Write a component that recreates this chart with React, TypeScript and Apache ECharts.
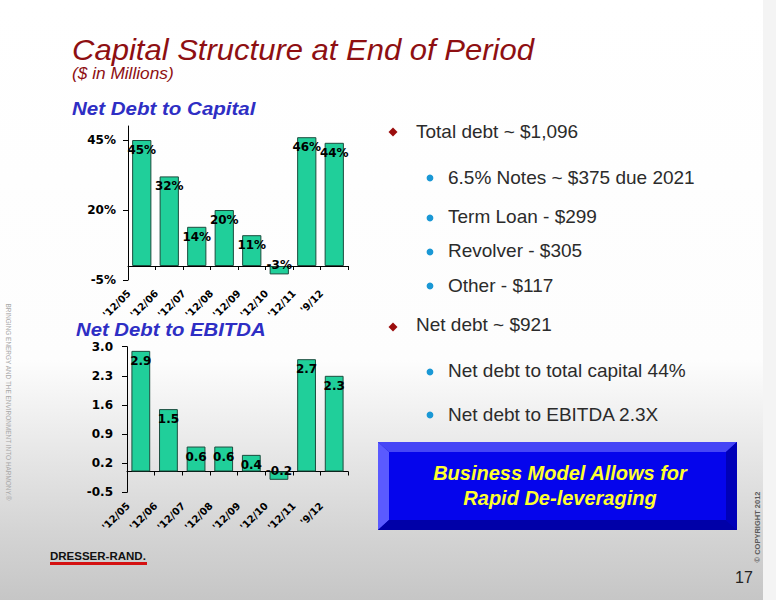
import React, { useEffect, useRef } from "react";
import * as echarts from "echarts";

const categories = ["'12/05", "'12/06", "'12/07", "'12/08", "'12/09", "'12/10", "'12/11", "'9/12"];
const netDebtToCapital = [45, 32, 14, 20, 11, -3, 46, 44];
const netDebtToEbitda = [2.9, 1.5, 0.6, 0.6, 0.4, -0.2, 2.7, 2.3];
const capitalTicks = [-5, 20, 45];
const ebitdaTicks = [-0.5, 0.2, 0.9, 1.6, 2.3, 3.0];

const titleText = "Capital Structure at End of Period";
const subtitleText = "($ in Millions)";
const chart1Title = "Net Debt to Capital";
const chart2Title = "Net Debt to EBITDA";
const mainBullets = ["Total debt ~ $1,096", "Net debt ~ $921"];
const debtItems = ["6.5% Notes ~ $375 due 2021", "Term Loan - $299", "Revolver - $305", "Other - $117"];
const netItems = ["Net debt to total capital 44%", "Net debt to EBITDA 2.3X"];
const boxLines = ["Business Model Allows for", "Rapid De-leveraging"];

const SANS = "'Liberation Sans', Arial, Helvetica, sans-serif";
const CHART_FONT = "'DejaVu Sans', Verdana, sans-serif";
const BAR_COLOR = "#20cf9a";
const BAR_BORDER = "#1b4d3e";
const RED = "#8e0f12";
const BLUE_TITLE = "#2e2ec4";
const TEXT_DARK = "#2b2b2b";

function diamond(cx: number, cy: number, r: number) {
  return {
    type: "polygon",
    shape: { points: [[cx, cy - r], [cx + r, cy], [cx, cy + r], [cx - r, cy]] },
    style: { fill: "#9b0d0d" },
  };
}

function dot(cx: number, cy: number) {
  return { type: "circle", shape: { cx, cy, r: 3.4 }, style: { fill: "#1a98d5" } };
}

function bulletText(x: number, y: number, text: string) {
  return {
    type: "text",
    x,
    y,
    style: { text, fill: TEXT_DARK, font: `19px ${SANS}`, align: "left", verticalAlign: "middle" },
  };
}

export default function App() {
  const ref = useRef<HTMLDivElement>(null);

  useEffect(() => {
    if (!ref.current) return;
    const chart = echarts.init(ref.current, null, { renderer: "svg" });

    const dataLabel = (fmt: (v: number) => string) => ({
      show: true,
      position: "insideTop",
      distance: 4,
      color: "#000",
      fontFamily: CHART_FONT,
      fontWeight: "bold",
      fontSize: 12,
      formatter: (p: any) => fmt(p.value),
    });

    const mkData = (arr: number[]) =>
      arr.map((v) =>
        v < 0 ? { value: v, label: { position: "inside", offset: [0, -5] } } : { value: v }
      );

    const xAxisCommon = (margin: number) => ({
      type: "category",
      data: categories,
      axisLine: { show: true, onZero: true, lineStyle: { color: "#000", width: 1 } },
      axisTick: { show: true, length: 4, lineStyle: { color: "#000" } },
      axisLabel: {
        interval: 0,
        rotate: 45,
        margin,
        padding: [0, 18, 0, 0],
        color: "#000",
        fontFamily: CHART_FONT,
        fontWeight: "bold",
        fontSize: 10,
      },
      splitLine: { show: false },
    });

    const boxX1 = 378, boxY1 = 442, boxX2 = 737, boxY2 = 530, bv = 11;

    const option: any = {
      animation: false,
      backgroundColor: "transparent",
      grid: [
        { left: 128, top: 126, width: 220, height: 154 },
        { left: 127, top: 346.7, width: 221, height: 145.6 },
      ],
      xAxis: [
        { ...xAxisCommon(-1), gridIndex: 0 },
        { ...xAxisCommon(-1), gridIndex: 1 },
      ],
      yAxis: [
        {
          type: "value",
          gridIndex: 0,
          min: -5,
          max: 50,
          interval: 25,
          axisLine: { show: true, lineStyle: { color: "#000" } },
          axisTick: { show: true, length: 5, customValues: capitalTicks, lineStyle: { color: "#000" } },
          axisLabel: {
            customValues: capitalTicks,
            margin: 12,
            color: "#000",
            fontFamily: CHART_FONT,
            fontWeight: "bold",
            fontSize: 12,
            formatter: (v: number) => `${v}%`,
          },
          splitLine: { show: false },
        },
        {
          type: "value",
          gridIndex: 1,
          min: -0.5,
          max: 3.0,
          interval: 0.7,
          axisLine: { show: true, lineStyle: { color: "#000" } },
          axisTick: { show: true, length: 5, customValues: ebitdaTicks, lineStyle: { color: "#000" } },
          axisLabel: {
            customValues: ebitdaTicks,
            margin: 14,
            color: "#000",
            fontFamily: CHART_FONT,
            fontWeight: "bold",
            fontSize: 12,
            formatter: (v: number) => v.toFixed(1),
          },
          splitLine: { show: false },
        },
      ],
      series: [
        {
          type: "bar",
          xAxisIndex: 0,
          yAxisIndex: 0,
          data: mkData(netDebtToCapital),
          barWidth: "70%",
          itemStyle: { color: BAR_COLOR, borderColor: BAR_BORDER, borderWidth: 1 },
          label: dataLabel((v) => `${v}%`),
        },
        {
          type: "bar",
          xAxisIndex: 1,
          yAxisIndex: 1,
          data: mkData(netDebtToEbitda),
          barWidth: "68%",
          itemStyle: { color: BAR_COLOR, borderColor: BAR_BORDER, borderWidth: 1 },
          label: dataLabel((v) => v.toFixed(1)),
        },
      ],
      graphic: [
        {
          type: "rect",
          z: -10,
          silent: true,
          shape: { x: 0, y: 0, width: 763, height: 600 },
          style: {
            fill: new echarts.graphic.LinearGradient(0, 0, 0, 1, [
              { offset: 0, color: "#ffffff" },
              { offset: 0.6, color: "#fdfdfd" },
              { offset: 0.72, color: "#ececec" },
              { offset: 0.88, color: "#d5d5d5" },
              { offset: 1, color: "#c6c6c6" },
            ]),
          },
        },
        {
          type: "rect",
          z: -10,
          silent: true,
          shape: { x: 763, y: 0, width: 13, height: 600 },
          style: { fill: "#f4f4f4" },
        },
        // Title
        {
          type: "text",
          x: 72,
          y: 50,
          scaleX: 1.07,
          style: { text: titleText, fill: RED, font: `italic 29px ${SANS}`, align: "left", verticalAlign: "middle" },
        },
        {
          type: "text",
          x: 72,
          y: 74,
          scaleX: 1.08,
          style: { text: subtitleText, fill: RED, font: `italic 16px ${SANS}`, align: "left", verticalAlign: "middle" },
        },
        {
          type: "text",
          x: 72,
          y: 108,
          scaleX: 1.08,
          style: { text: chart1Title, fill: BLUE_TITLE, font: `italic bold 19px ${SANS}`, align: "left", verticalAlign: "middle" },
        },
        {
          type: "text",
          x: 76,
          y: 329,
          scaleX: 1.07,
          style: { text: chart2Title, fill: BLUE_TITLE, font: `italic bold 19px ${SANS}`, align: "left", verticalAlign: "middle" },
        },
        // Bullets
        diamond(393, 132, 4.5),
        bulletText(416, 131, mainBullets[0]),
        dot(430, 178),
        bulletText(448, 177, debtItems[0]),
        dot(430, 218),
        bulletText(448, 216, debtItems[1]),
        dot(430, 252),
        bulletText(448, 250, debtItems[2]),
        dot(430, 286),
        bulletText(448, 285, debtItems[3]),
        diamond(393, 327, 4.5),
        bulletText(416, 324, mainBullets[1]),
        dot(430, 372),
        bulletText(448, 370, netItems[0]),
        dot(430, 415),
        bulletText(448, 414, netItems[1]),
        // Bevel box
        {
          type: "rect",
          shape: { x: boxX1, y: boxY1, width: boxX2 - boxX1, height: boxY2 - boxY1 },
          style: { fill: "#0000c8" },
        },
        {
          type: "polygon",
          shape: { points: [[boxX1, boxY1], [boxX2, boxY1], [boxX2 - bv, boxY1 + 10], [boxX1 + bv, boxY1 + 10]] },
          style: { fill: "#4646f6" },
        },
        {
          type: "polygon",
          shape: { points: [[boxX1, boxY1], [boxX1 + bv, boxY1 + 10], [boxX1 + bv, boxY2 - 10], [boxX1, boxY2]] },
          style: { fill: "#5a5aff" },
        },
        {
          type: "polygon",
          shape: { points: [[boxX1, boxY2], [boxX1 + bv, boxY2 - 10], [boxX2 - bv, boxY2 - 10], [boxX2, boxY2]] },
          style: { fill: "#0000a8" },
        },
        {
          type: "polygon",
          shape: { points: [[boxX2, boxY1], [boxX2, boxY2], [boxX2 - bv, boxY2 - 10], [boxX2 - bv, boxY1 + 10]] },
          style: { fill: "#0000b8" },
        },
        {
          type: "rect",
          shape: { x: boxX1 + bv, y: boxY1 + 10, width: boxX2 - boxX1 - 2 * bv, height: boxY2 - boxY1 - 20 },
          style: { fill: "#0505ec" },
        },
        {
          type: "text",
          x: 560,
          y: 473,
          style: { text: boxLines[0], fill: "#ffff2e", font: `italic bold 20px ${SANS}`, align: "center", verticalAlign: "middle" },
        },
        {
          type: "text",
          x: 560,
          y: 498,
          style: { text: boxLines[1], fill: "#ffff2e", font: `italic bold 20px ${SANS}`, align: "center", verticalAlign: "middle" },
        },
        // Side texts
        {
          type: "text",
          x: 9,
          y: 402,
          rotation: -Math.PI / 2,
          scaleX: 0.86,
          style: {
            text: "BRINGING ENERGY AND THE ENVIRONMENT INTO HARMONY.®",
            fill: "#a8a8a8",
            font: `7.5px ${SANS}`,
            align: "center",
            verticalAlign: "middle",
          },
        },
        {
          type: "text",
          x: 757,
          y: 527,
          rotation: Math.PI / 2,
          style: { text: "© COPYRIGHT 2012", fill: "#5a5a5a", font: `bold 7.5px ${SANS}`, align: "center", verticalAlign: "middle" },
        },
        {
          type: "text",
          x: 744,
          y: 577,
          style: { text: "17", fill: "#222", font: `16px ${SANS}`, align: "center", verticalAlign: "middle" },
        },
        // Logo
        {
          type: "text",
          x: 50,
          y: 556,
          style: { text: "DRESSER-RAND.", fill: "#111", font: `900 11.5px ${SANS}`, align: "left", verticalAlign: "middle" },
        },
        {
          type: "rect",
          shape: { x: 50, y: 562, width: 97, height: 3 },
          style: { fill: "#d41010" },
        },
      ],
    };

    chart.setOption(option);
    return () => chart.dispose();
  }, []);

  return (
    <div
      ref={ref}
      style={{ position: "absolute", left: 0, top: 0, width: 776, height: 600 }}
    />
  );
}
